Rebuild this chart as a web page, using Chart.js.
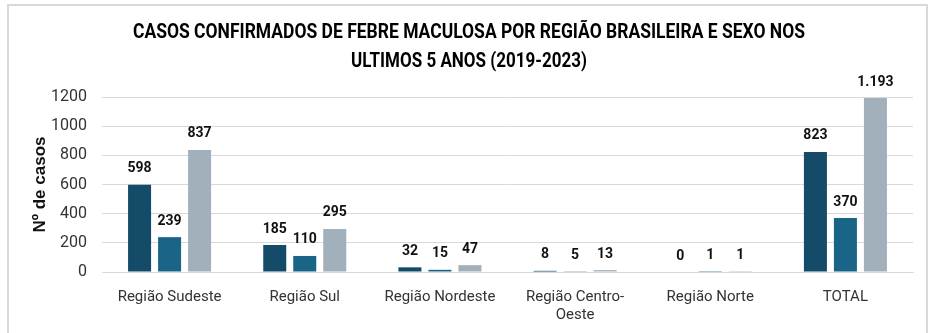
<!DOCTYPE html>
<html>
<head>
<meta charset="utf-8">
<script src="https://cdn.jsdelivr.net/npm/chart.js@4"></script>
<style>
  html, body { margin: 0; padding: 0; background: #fff; }
  #wrap { width: 932px; height: 333px; position: relative; }
</style>
</head>
<body>
<div id="wrap"><canvas id="chart" width="932" height="333"></canvas></div>
<script>
// Dados do gráfico
const categorias = [
  "Região Sudeste",
  "Região Sul",
  "Região Nordeste",
  ["Região Centro-", "Oeste"],
  "Região Norte",
  "TOTAL",
];
const masculino = [598, 185, 32, 8, 0, 823];
const feminino = [239, 110, 15, 5, 1, 370];
const total = [837, 295, 47, 13, 1, 1193];
const tituloLinhas = [
  "CASOS CONFIRMADOS DE FEBRE MACULOSA POR REGIÃO BRASILEIRA E SEXO NOS",
  "ULTIMOS 5 ANOS (2019-2023)",
];
const yTicks = [0, 200, 400, 600, 800, 1000, 1200];

const fonte = "'Roboto', 'Liberation Sans', sans-serif";

// Moldura e título desenhados à mão
const molduraPlugin = {
  id: "moldura",
  beforeDraw(chart) {
    const ctx = chart.ctx;
    ctx.save();
    ctx.fillStyle = "#fff";
    ctx.fillRect(0, 0, chart.width, chart.height);
    ctx.strokeStyle = "#d9d9d9";
    ctx.lineWidth = 2;
    ctx.strokeRect(8, 5, 919, 340);
    ctx.fillStyle = "#000";
    ctx.font = "bold 20px " + fonte;
    ctx.textAlign = "center";
    ctx.textBaseline = "middle";
    // maxWidth comprime o texto para imitar a fonte estreita
    ctx.fillText(tituloLinhas[0], 469, 33, 672);
    ctx.fillText(tituloLinhas[1], 469, 62, 236);
    ctx.restore();
  },
};

// Rótulos de valores acima das barras
const rotulosPlugin = {
  id: "rotulos",
  afterDatasetsDraw(chart) {
    const ctx = chart.ctx;
    ctx.save();
    ctx.font = "bold 14px " + fonte;
    ctx.fillStyle = "#111";
    ctx.textAlign = "center";
    ctx.textBaseline = "middle";
    chart.data.datasets.forEach((ds, i) => {
      const meta = chart.getDatasetMeta(i);
      meta.data.forEach((bar, j) => {
        const v = ds.data[j];
        ctx.fillText(v.toLocaleString("pt-BR"), bar.x, bar.y - 16);
      });
    });
    ctx.restore();
  },
};

new Chart(document.getElementById("chart"), {
  type: "bar",
  data: {
    labels: categorias,
    datasets: [
      { label: "Masculino", data: masculino, backgroundColor: "#134b68" },
      { label: "Feminino", data: feminino, backgroundColor: "#1a6587" },
      { label: "Total", data: total, backgroundColor: "#a2b0bc" },
    ],
  },
  options: {
    responsive: false,
    animation: false,
    datasets: {
      bar: { categoryPercentage: 0.666, barPercentage: 0.767 },
    },
    layout: { padding: { left: 30, right: 19, top: 97, bottom: 0 } },
    plugins: {
      legend: { display: false },
      tooltip: { enabled: false },
      title: { display: false },
    },
    scales: {
      x: {
        grid: { display: false, drawTicks: false },
        border: { display: true, color: "#d9d9d9" },
        ticks: {
          color: "#333",
          padding: 16,
          maxRotation: 0,
          autoSkip: false,
          font: { family: fonte, size: 15 },
        },
        afterFit(scale) { scale.height = 61; },
      },
      y: {
        min: 0,
        max: 1200,
        afterBuildTicks(scale) { scale.ticks = yTicks.map((v) => ({ value: v })); },
        grid: { color: "#d9d9d9", drawTicks: false },
        border: { display: false },
        ticks: {
          color: "#333",
          padding: 15,
          font: { family: fonte, size: 16 },
          callback: (v) => String(v),
        },
        title: {
          display: true,
          text: "Nº de casos",
          color: "#111",
          font: { family: "'Liberation Sans', Arial, sans-serif", size: 17, weight: "bold" },
          padding: { top: 0, bottom: 0 },
        },
        afterFit(scale) { scale.width = 72; },
      },
    },
  },
  plugins: [molduraPlugin, rotulosPlugin],
});
</script>
</body>
</html>
